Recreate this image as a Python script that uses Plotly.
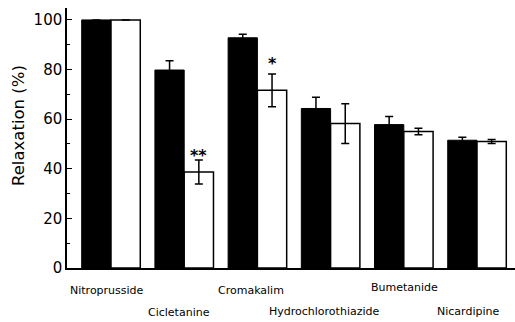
import plotly.graph_objects as go

categories = ["Nitroprusside", "Cicletanine", "Cromakalim",
              "Hydrochlorothiazide", "Bumetanide", "Nicardipine"]
black_vals = [100, 79.8, 92.8, 64.3, 57.8, 51.5]
black_err = [float("nan"), 3.7, 1.4, 4.5, 3.3, 1.2]
white_vals = [100, 38.7, 71.6, 58.2, 55.0, 51.0]
white_err = [float("nan"), 4.8, 6.6, 8.0, 1.3, 0.8]
sig_marks = ["", "**", "*", "", "", ""]
sig_y = [None, 45.2, 82.4, None, None, None]
label_rows = [-8.9, -17.9, -9.1, -17.4, -7.7, -17.4]
label_xshift = [-4, -5, -6, -7, 1, -9]
y_ticks = [0, 20, 40, 60, 80, 100]

FONT = "DejaVu Sans"
bargap = 0.2
YMAX = 104.8

fig = go.Figure()
fig.add_trace(go.Bar(
    x=categories, y=black_vals,
    marker=dict(color="black", line=dict(color="black", width=1)),
    error_y=dict(type="data", array=black_err, visible=True,
                 color="black", thickness=1.5, width=4),
    showlegend=False,
))
fig.add_trace(go.Bar(
    x=categories, y=white_vals,
    marker=dict(color="white", line=dict(color="black", width=1.5)),
    error_y=dict(type="data", array=white_err, visible=True,
                 color="black", thickness=1.5, width=4),
    showlegend=False,
))

W, H = 515, 322
ml, mr, mt, mb = 67, 0, 8, 54
pw, ph = W - ml - mr, H - mt - mb

annotations = []
half = (1 - bargap) / 4
for i, (m, yy) in enumerate(zip(sig_marks, sig_y)):
    if m:
        annotations.append(dict(x=i + half, y=yy, xref="x", yref="y", text="<b>" + m + "</b>",
                                showarrow=False, font=dict(family=FONT, size=16, color="black"),
                                xanchor="center", yanchor="middle"))
for i, (c, ly, xs) in enumerate(zip(categories, label_rows, label_xshift)):
    annotations.append(dict(x=i, y=ly / YMAX, xref="x", yref="paper", text=c, showarrow=False,
                            xshift=xs,
                            font=dict(family=FONT, size=11, color="black"),
                            xanchor="center", yanchor="middle"))
annotations.append(dict(x=(18 - ml) / pw, y=(H - mb - 126) / ph, xref="paper", yref="paper",
                        text="Relaxation (%)", showarrow=False, textangle=-90,
                        font=dict(family=FONT, size=16.5, color="black"),
                        xanchor="center", yanchor="middle"))

fig.update_layout(
    width=W, height=H,
    margin=dict(l=ml, r=mr, t=mt, b=mb),
    paper_bgcolor="white", plot_bgcolor="white",
    barmode="group", bargap=bargap, bargroupgap=0,
    annotations=annotations,
    font=dict(family=FONT, color="black"),
)
fig.update_xaxes(
    range=[-0.601, 5.519], showticklabels=False, ticks="",
    showline=True, linecolor="black", linewidth=1.5, showgrid=False, zeroline=False,
)
fig.update_yaxes(
    range=[0, YMAX], tickvals=y_ticks, ticks="inside", ticklen=5, tickwidth=1.2,
    tickcolor="black",
    minor=dict(dtick=10, ticks="inside", ticklen=3, tickwidth=1, tickcolor="black"),
    showline=True, linecolor="black", linewidth=1.5, showgrid=False, zeroline=False,
    tickfont=dict(family=FONT, size=15, color="black"),
)

fig.write_html("out.html")
